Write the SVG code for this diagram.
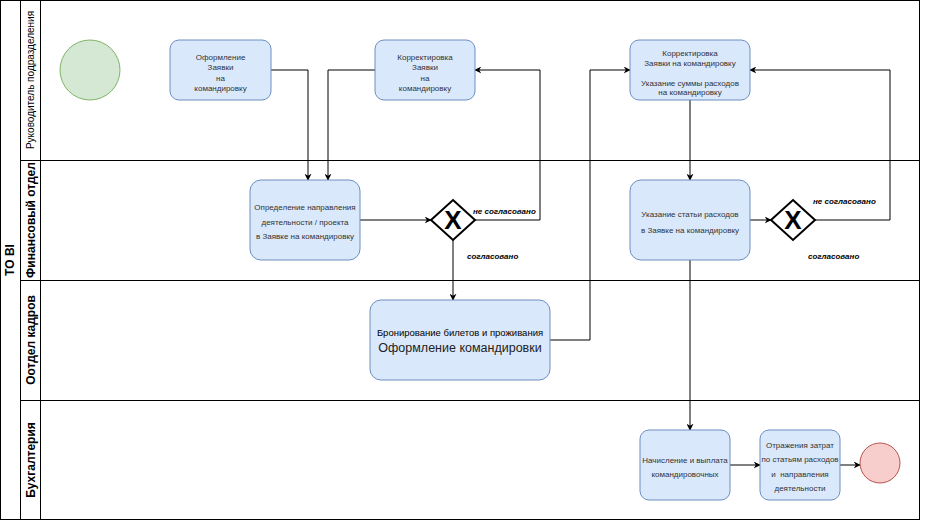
<svg xmlns="http://www.w3.org/2000/svg" width="929" height="521" viewBox="0 0 929 521">
<style>
.lane{fill:none;stroke:#000;stroke-width:1}
.task{fill:#dae8fc;stroke:#6c8ebf;stroke-width:1}
.t{font-family:"Liberation Sans",Arial,sans-serif;font-size:8px;fill:#333;text-anchor:middle}
.hdr{font-family:"Liberation Sans",Arial,sans-serif;font-size:12px;font-weight:bold;fill:#000;text-anchor:middle}
.lbl{font-family:"Liberation Sans",Arial,sans-serif;font-size:8px;font-style:italic;font-weight:bold;fill:#000}
.c{fill:none;stroke:#000;stroke-width:1}
.gw{fill:#fff;stroke:#000;stroke-width:2}
</style>
<defs>
<marker id="arr" viewBox="0 0 10 10" refX="9" refY="5" markerWidth="7" markerHeight="7" orient="auto" markerUnits="userSpaceOnUse">
<path d="M0,0 L10,5 L0,10 L3,5 Z" fill="#000"/>
</marker>
</defs>
<rect width="929" height="521" fill="#fff"/>
<g id="pool">
<rect class="lane" x="0.5" y="0.5" width="919" height="519"/>
<line class="lane" x1="20.5" y1="0.5" x2="20.5" y2="519.5"/>
<line class="lane" x1="40.5" y1="0.5" x2="40.5" y2="519.5"/>
<line class="lane" x1="20.5" y1="160.5" x2="919.5" y2="160.5"/>
<line class="lane" x1="20.5" y1="280.5" x2="919.5" y2="280.5"/>
<line class="lane" x1="20.5" y1="400.5" x2="919.5" y2="400.5"/>
<text class="hdr" transform="translate(14,260) rotate(-90)">TO BI</text>
<text font-family="Liberation Sans,Arial,sans-serif" font-size="10" fill="#000" text-anchor="middle" transform="translate(34,80) rotate(-90)">Руководитель подразделения</text>
<text class="hdr" transform="translate(35,220) rotate(-90)">Финансовый отдел</text>
<text class="hdr" transform="translate(35,340) rotate(-90)">Оотдел кадров</text>
<text class="hdr" transform="translate(35,460) rotate(-90)">Бухгалтерия</text>
</g>
<g id="connectors">
<polyline class="c" points="270,70 308,70 308,180" marker-end="url(#arr)"/>
<polyline class="c" points="375,70 328,70 328,180" marker-end="url(#arr)"/>
<polyline class="c" points="360,220 431,220" marker-end="url(#arr)"/>
<polyline class="c" points="475,220 540,220 540,70 475,70" marker-end="url(#arr)"/>
<polyline class="c" points="453,240 453,300" marker-end="url(#arr)"/>
<polyline class="c" points="550,340 590,340 590,70 630,70" marker-end="url(#arr)"/>
<polyline class="c" points="690,100 690,180" marker-end="url(#arr)"/>
<polyline class="c" points="750,220 771,220" marker-end="url(#arr)"/>
<polyline class="c" points="815,220 890,220 890,70 750,70" marker-end="url(#arr)"/>
<polyline class="c" points="690,260 690,430" marker-end="url(#arr)"/>
<polyline class="c" points="730,465 760,465" marker-end="url(#arr)"/>
<polyline class="c" points="840,465 860,465" marker-end="url(#arr)"/>
<text class="lbl" x="473" y="214">не согласовано</text>
<text class="lbl" x="467" y="259">согласовано</text>
<text class="lbl" x="813" y="204">не согласовано</text>
<text class="lbl" x="808" y="259">согласовано</text>
</g>
<g id="start"><circle cx="90" cy="70" r="30" fill="#d5e8d4" stroke="#82b366"/></g>
<g id="n1">
<rect class="task" x="170" y="40" width="101" height="60" rx="9"/>
<text class="t" x="220.5" y="60">Оформление</text>
<text class="t" x="220.5" y="70">Заявки</text>
<text class="t" x="220.5" y="80.5">на</text>
<text class="t" x="220.5" y="91">командировку</text>
</g>
<g id="n2">
<rect class="task" x="375" y="40" width="100" height="60" rx="9"/>
<text class="t" x="425" y="60">Корректировка</text>
<text class="t" x="425" y="70">Заявки</text>
<text class="t" x="425" y="80.5">на</text>
<text class="t" x="425" y="91">командировку</text>
</g>
<g id="n3">
<rect class="task" x="630" y="40" width="120" height="60" rx="9"/>
<text class="t" x="690" y="56">Корректировка</text>
<text class="t" x="690" y="66">Заявки на командировку</text>
<text class="t" x="690" y="86">Указание суммы расходов</text>
<text class="t" x="690" y="95">на командировку</text>
</g>
<g id="n4">
<rect class="task" x="250" y="180" width="110" height="80" rx="11"/>
<text class="t" x="305" y="210">Определение направления</text>
<text class="t" x="305" y="225">деятельности / проекта</text>
<text class="t" x="305" y="239">в Заявке на командировку</text>
</g>
<g id="gw1">
<polygon class="gw" points="453,200 475,220 453,240 431,220"/>
<text x="453" y="229" font-family="Liberation Sans,Arial,sans-serif" font-size="26" font-weight="bold" text-anchor="middle" fill="#000">X</text>
</g>
<g id="n5">
<rect class="task" x="630" y="180" width="120" height="80" rx="11"/>
<text class="t" x="690" y="217">Указание статьи расходов</text>
<text class="t" x="690" y="233">в Заявке на командировку</text>
</g>
<g id="gw2">
<polygon class="gw" points="793,200 815,220 793,240 771,220"/>
<text x="793" y="229" font-family="Liberation Sans,Arial,sans-serif" font-size="26" font-weight="bold" text-anchor="middle" fill="#000">X</text>
</g>
<g id="n6">
<rect class="task" x="370" y="300" width="180" height="80" rx="11"/>
<text class="t" x="460" y="336" style="font-size:9.5px;fill:#000">Бронирование билетов и проживания</text>
<text class="t" x="460" y="352" style="font-size:12.5px;fill:#222">Оформление командировки</text>
</g>
<g id="n7">
<rect class="task" x="640" y="430" width="90" height="70" rx="9"/>
<text class="t" x="685" y="463">Начисление и выплата</text>
<text class="t" x="685" y="477">командировочных</text>
</g>
<g id="n8">
<rect class="task" x="760" y="430" width="80" height="70" rx="9"/>
<text class="t" x="800" y="448">Отражения затрат</text>
<text class="t" x="800" y="462">по статьям расходов</text>
<text class="t" x="800" y="477" style="white-space:pre">и  направления</text>
<text class="t" x="800" y="491">деятельности</text>
</g>
<g id="end"><circle cx="880" cy="463" r="20" fill="#f8cecc" stroke="#b85450"/></g>
</svg>
